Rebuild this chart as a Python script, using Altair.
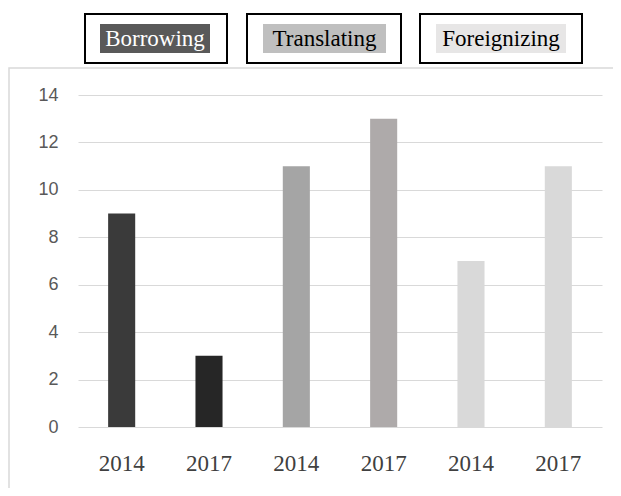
import altair as alt
import pandas as pd

# ---- data ----
categories = ["Borrowing", "Borrowing", "Translating", "Translating", "Foreignizing", "Foreignizing"]
years = ["2014", "2017", "2014", "2017", "2014", "2017"]
values = [9, 3, 11, 13, 7, 11]
bar_colors = ["#3a3a3a", "#262626", "#a5a5a5", "#aeaaaa", "#d9d9d9", "#d9d9d9"]

legend_names = ["Borrowing", "Translating", "Foreignizing"]
legend_fill = ["#595959", "#bfbfbf", "#e7e6e6"]
legend_text_color = ["#ffffff", "#000000", "#000000"]

# ---- layout (pixels, relative to plot area) ----
W, H = 524, 332
box_x = [7, 169, 342]
box_x2 = [149, 323, 504]
hl_x = [22, 185, 358]
hl_x2 = [132, 308, 488]

keys = [f"{c}|{y}" for c, y in zip(categories, years)]
df = pd.DataFrame({"key": keys, "value": values, "category": categories, "year": years})

leg = pd.DataFrame({
    "name": legend_names,
    "bx": box_x, "bx2": box_x2,
    "hx": hl_x, "hx2": hl_x2,
    "tx": [(a + b) / 2 for a, b in zip(hl_x, hl_x2)],
    "fill": legend_fill,
    "tc": legend_text_color,
})

x_enc = alt.X(
    "key:N",
    sort=keys,
    scale=alt.Scale(paddingInner=0.69, paddingOuter=0.345),
    axis=alt.Axis(
        title=None,
        labelExpr="split(datum.label, '|')[1]",
        labelAngle=0,
        labelFont="Liberation Serif",
        labelFontSize=23,
        labelColor="#404040",
        labelPadding=25,
        ticks=False,
        domain=False,
        grid=False,
    ),
)

bars = alt.Chart(df).mark_bar().encode(
    x=x_enc,
    y=alt.Y(
        "value:Q",
        scale=alt.Scale(domain=[0, 14], nice=False),
        axis=alt.Axis(
            title=None,
            values=[0, 2, 4, 6, 8, 10, 12, 14],
            labelFont="Liberation Sans",
            labelFontSize=18,
            labelColor="#595959",
            labelPadding=20,
            ticks=False,
            domain=False,
            gridColor="#d9d9d9",
            gridWidth=1,
        ),
    ),
    color=alt.Color("key:N", scale=alt.Scale(domain=keys, range=bar_colors), legend=None),
)

frame = alt.Chart(pd.DataFrame({"a": [0]})).mark_rect(
    fill=None, stroke="#d9d9d9", strokeWidth=1.5
).encode(
    x=alt.value(-69), x2=alt.value(W + 120), y=alt.value(-27), y2=alt.value(H + 120)
)

boxes = alt.Chart(leg).mark_rect(fill="white", stroke="#000000", strokeWidth=2).encode(
    x=alt.X("bx:Q", scale=None, axis=None), x2="bx2:Q",
    y=alt.value(-81), y2=alt.value(-32),
)

highlights = alt.Chart(leg).mark_rect().encode(
    x=alt.X("hx:Q", scale=None, axis=None), x2="hx2:Q",
    y=alt.value(-71), y2=alt.value(-42),
    fill=alt.Fill("fill:N", scale=None),
)

texts = alt.Chart(leg).mark_text(
    font="Liberation Serif", fontSize=23, align="center", baseline="middle"
).encode(
    x=alt.X("tx:Q", scale=None, axis=None),
    y=alt.value(-56),
    text="name:N",
    color=alt.Color("tc:N", scale=None),
)

chart = alt.layer(frame, bars, boxes, highlights, texts).resolve_scale(
    x="independent"
).resolve_axis(x="independent").properties(
    width=W, height=H,
    background="white",
    autosize=alt.AutoSizeParams(type="none"),
    padding={"left": 70, "top": 87, "right": 11, "bottom": 61},
).configure_view(strokeWidth=0, stroke="transparent")

chart.save("out.html", embed_options={"renderer": "svg", "actions": False})
